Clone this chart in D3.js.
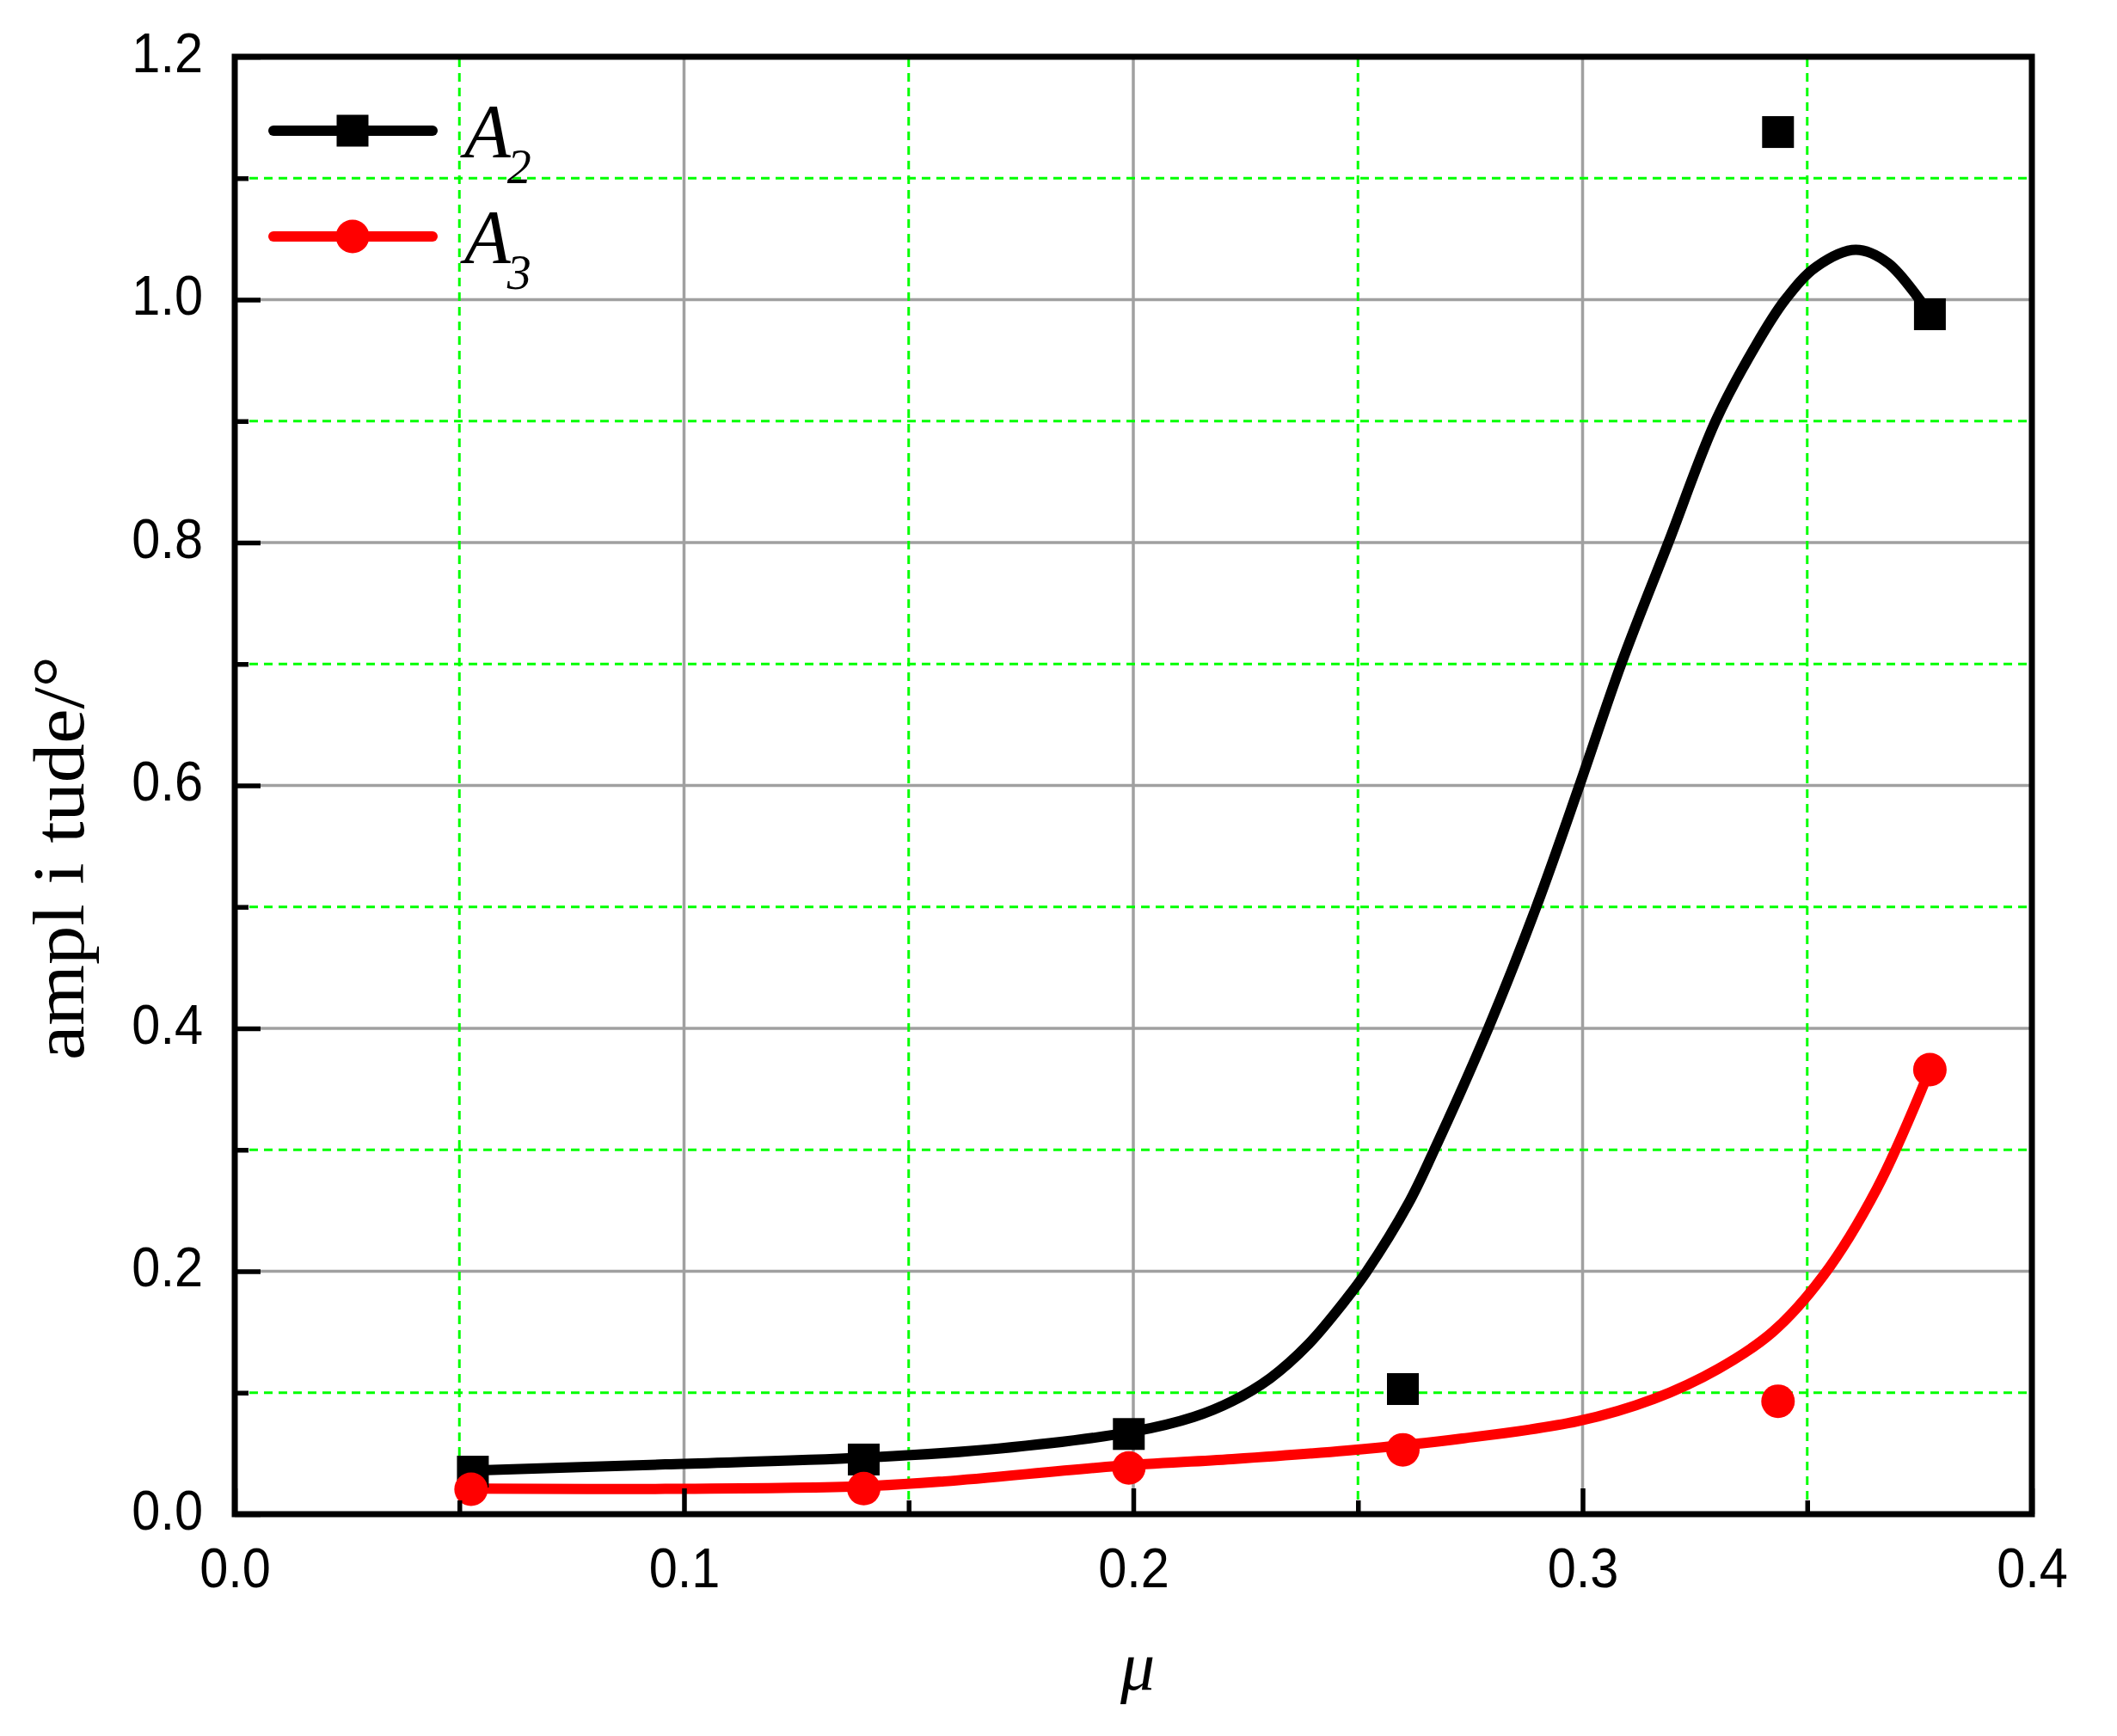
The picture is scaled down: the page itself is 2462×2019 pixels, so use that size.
<!DOCTYPE html>
<html>
<head>
<meta charset="utf-8">
<script src="https://cdn.jsdelivr.net/npm/d3@7"></script>
<style>
  body { margin: 0; background: #fff; }
  text { fill: #000; }
</style>
</head>
<body>
<svg id="chart"></svg>
<script>
const width = 2462;
const height = 2019;
const margin = {left: 273, right: 99, top: 66, bottom: 258};

// measured points
const a2X = [0.053, 0.14, 0.199, 0.26, 0.3435, 0.3773];
const a2Y = [0.035, 0.045, 0.066, 0.103, 1.138, 0.988];
const a3X = [0.0526, 0.14, 0.199, 0.26, 0.3435, 0.3773];
const a3Y = [0.0205, 0.021, 0.038, 0.053, 0.093, 0.366];

// fitted curves
const fit2X = [0.053, 0.0958, 0.14, 0.17, 0.20, 0.2134, 0.222, 0.2305, 0.239, 0.2476, 0.2518, 0.2612, 0.267, 0.279, 0.2897, 0.2993, 0.3086, 0.3191, 0.3296, 0.3385, 0.3451, 0.352, 0.3608, 0.368, 0.3773];
const fit2Y = [0.036, 0.041, 0.0465, 0.054, 0.068, 0.080, 0.093, 0.112, 0.140, 0.178, 0.199, 0.2556, 0.300, 0.400, 0.500, 0.600, 0.700, 0.800, 0.900, 0.962, 1.000, 1.027, 1.041, 1.030, 0.988];
const fit3X = [0.053, 0.0958, 0.14, 0.158, 0.1964, 0.222, 0.2476, 0.2732, 0.2989, 0.3159, 0.3302, 0.3423, 0.3535, 0.3655, 0.3773];
const fit3Y = [0.021, 0.0208, 0.023, 0.027, 0.0396, 0.0453, 0.0524, 0.0623, 0.0765, 0.095, 0.1197, 0.150, 0.196, 0.268, 0.366];

const xMajor = [0, 0.1, 0.2, 0.3, 0.4];
const xMinor = [0.05, 0.15, 0.25, 0.35];
const yMajor = [0, 0.2, 0.4, 0.6, 0.8, 1.0, 1.2];
const yMinor = [0.1, 0.3, 0.5, 0.7, 0.9, 1.1];

const svg = d3.select('#chart')
    .attr('width', width)
    .attr('height', height);

svg.append('rect').attr('width', width).attr('height', height).attr('fill', '#fff');

const x = d3.scaleLinear().domain([0, 0.4]).range([margin.left, width - margin.right]);
const y = d3.scaleLinear().domain([0, 1.2]).range([height - margin.bottom, margin.top]);

// grid
const grid = svg.append('g');
grid.selectAll('.gx').data(xMajor.slice(1, -1)).enter().append('line')
    .attr('x1', d => x(d)).attr('x2', d => x(d))
    .attr('y1', y(0)).attr('y2', y(1.2))
    .attr('stroke', '#a0a0a0').attr('stroke-width', 3.5);
grid.selectAll('.gy').data(yMajor.slice(1, -1)).enter().append('line')
    .attr('x1', x(0)).attr('x2', x(0.4))
    .attr('y1', d => y(d)).attr('y2', d => y(d))
    .attr('stroke', '#a0a0a0').attr('stroke-width', 3.5);
grid.selectAll('.mx').data(xMinor).enter().append('line')
    .attr('x1', d => x(d)).attr('x2', d => x(d))
    .attr('y1', y(0)).attr('y2', y(1.2))
    .attr('stroke', '#00ff00').attr('stroke-width', 3)
    .attr('stroke-dasharray', '10,7');
grid.selectAll('.my').data(yMinor).enter().append('line')
    .attr('x1', x(0)).attr('x2', x(0.4))
    .attr('y1', d => y(d)).attr('y2', d => y(d))
    .attr('stroke', '#00ff00').attr('stroke-width', 3)
    .attr('stroke-dasharray', '10,7');

// curves
const line = d3.line()
    .x(d => x(d[0]))
    .y(d => y(d[1]))
    .curve(d3.curveCatmullRom.alpha(0.5));

svg.append('path')
    .datum(d3.zip(fit2X, fit2Y))
    .attr('fill', 'none').attr('stroke', '#000').attr('stroke-width', 12)
    .attr('stroke-linecap', 'round')
    .attr('d', line);
svg.append('path')
    .datum(d3.zip(fit3X, fit3Y))
    .attr('fill', 'none').attr('stroke', '#ff0000').attr('stroke-width', 12)
    .attr('stroke-linecap', 'round')
    .attr('d', line);

// markers
const sq = 37;
svg.selectAll('.sq').data(d3.zip(a2X, a2Y)).enter().append('rect')
    .attr('x', d => x(d[0]) - sq / 2)
    .attr('y', d => y(d[1]) - sq / 2)
    .attr('width', sq).attr('height', sq)
    .attr('fill', '#000');
svg.selectAll('.ci').data(d3.zip(a3X, a3Y)).enter().append('circle')
    .attr('cx', d => x(d[0]))
    .attr('cy', d => y(d[1]))
    .attr('r', 19.5)
    .attr('fill', '#ff0000');

// axes
const xAxis = svg.append('g').attr('transform', `translate(0, ${y(0)})`);
const xAxisMinor = svg.append('g').attr('transform', `translate(0, ${y(0)})`);
const yAxis = svg.append('g').attr('transform', `translate(${x(0)}, 0)`);
const yAxisMinor = svg.append('g').attr('transform', `translate(${x(0)}, 0)`);

xAxis.call(d3.axisBottom(x).tickValues(xMajor).tickSize(-30).tickPadding(40).tickFormat(d3.format('.1f')));
xAxisMinor.call(d3.axisBottom(x).tickValues(xMinor).tickSize(-16).tickFormat(''));
yAxis.call(d3.axisLeft(y).tickValues(yMajor).tickSize(-30).tickPadding(37).tickFormat(d3.format('.1f')));
yAxisMinor.call(d3.axisLeft(y).tickValues(yMinor).tickSize(-16).tickFormat(''));

svg.selectAll('.domain').remove();
svg.selectAll('.tick line').attr('stroke', '#000').attr('stroke-width', 5.5);
svg.selectAll('.tick text')
    .attr('font-family', '"Liberation Sans", Arial, sans-serif')
    .attr('font-size', 64)
    .attr('fill', '#000');
xAxis.selectAll('.tick text').attr('transform', 'scale(0.93,1)');
yAxis.selectAll('.tick text')
    .attr('x', -37 / 0.93)
    .attr('dy', '0.27em')
    .attr('transform', 'scale(0.93,1)');

// frame
svg.append('rect')
    .attr('x', x(0)).attr('y', y(1.2))
    .attr('width', x(0.4) - x(0)).attr('height', y(0) - y(1.2))
    .attr('fill', 'none').attr('stroke', '#000').attr('stroke-width', 7);

// axis titles
svg.append('text')
    .attr('transform', `translate(97, 998) rotate(-90)`)
    .attr('text-anchor', 'middle')
    .attr('font-family', '"Liberation Serif", "Times New Roman", serif')
    .attr('font-size', 84)
    .attr('textLength', 470)
    .attr('lengthAdjust', 'spacingAndGlyphs')
    .text('ampl i tude/°');

svg.append('text')
    .attr('x', (x(0) + x(0.4)) / 2 + 5)
    .attr('y', 1965)
    .attr('text-anchor', 'middle')
    .attr('font-family', '"Liberation Serif", "Times New Roman", serif')
    .attr('font-style', 'italic')
    .attr('font-size', 80)
    .text('μ');

// legend
const legend = [
    {name: '2', color: '#000', shape: 'square', cy: 152},
    {name: '3', color: '#ff0000', shape: 'circle', cy: 275}
];
const lg = svg.selectAll('.legend').data(legend).enter().append('g');
lg.append('line')
    .attr('x1', 318).attr('x2', 503)
    .attr('y1', d => d.cy).attr('y2', d => d.cy)
    .attr('stroke', d => d.color).attr('stroke-width', 12)
    .attr('stroke-linecap', 'round');
lg.filter(d => d.shape == 'square').append('rect')
    .attr('x', 410 - sq / 2).attr('y', d => d.cy - sq / 2)
    .attr('width', sq).attr('height', sq).attr('fill', d => d.color);
lg.filter(d => d.shape == 'circle').append('circle')
    .attr('cx', 410).attr('cy', d => d.cy).attr('r', 19.5).attr('fill', d => d.color);
const lt = lg.append('text')
    .attr('x', 540)
    .attr('y', d => d.cy + 30)
    .attr('font-family', '"Liberation Serif", "Times New Roman", serif')
    .attr('font-style', 'italic')
    .attr('font-size', 88);
lt.append('tspan').text('A');
lt.append('tspan')
    .attr('font-size', 56)
    .attr('dx', -4)
    .attr('dy', 31)
    .text(d => d.name);
</script>
</body>
</html>
